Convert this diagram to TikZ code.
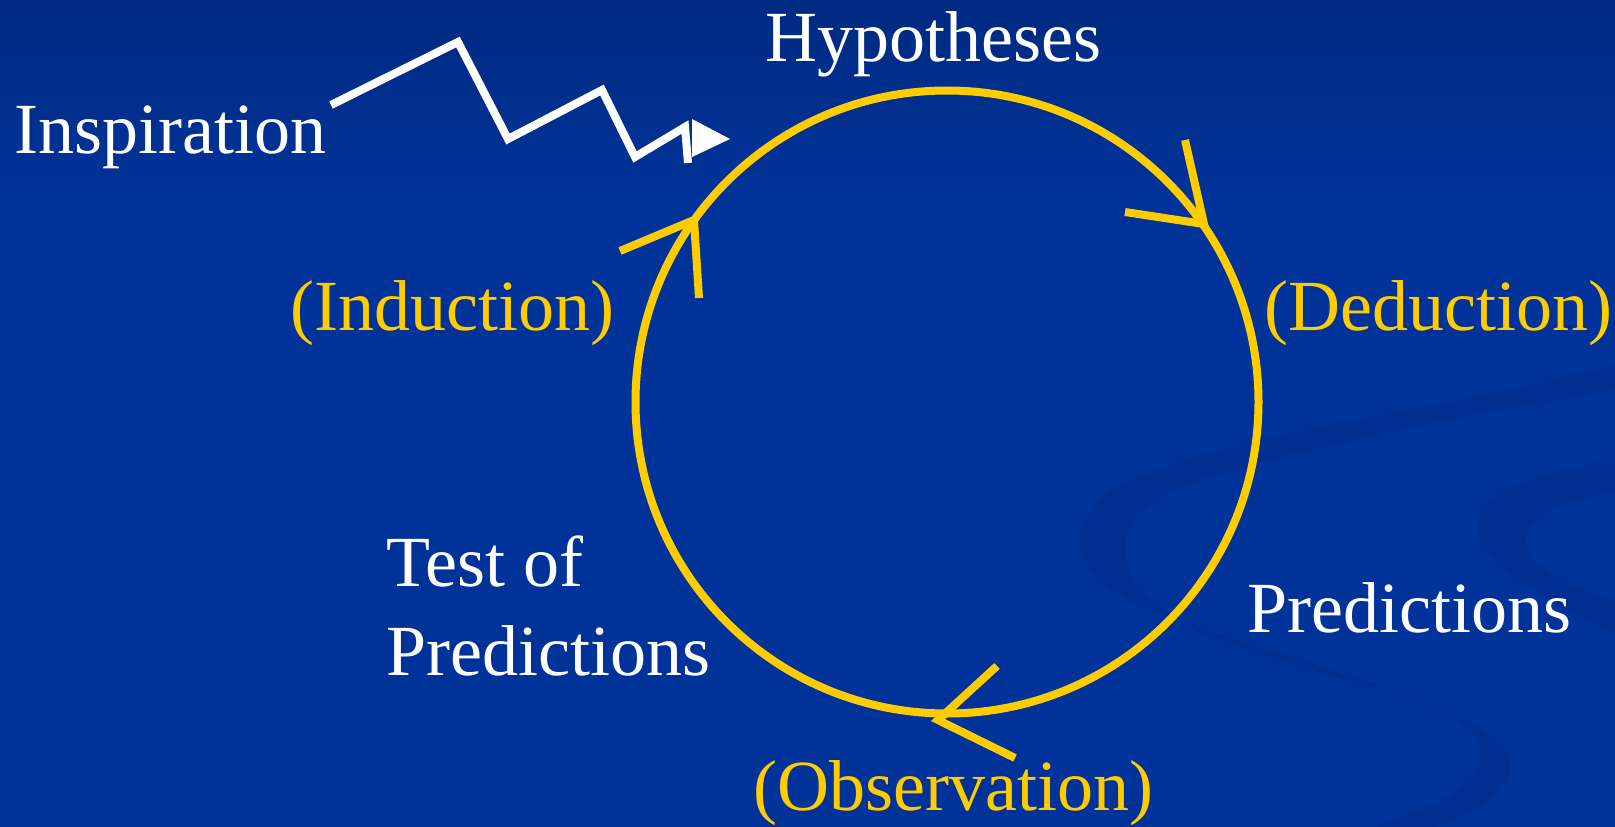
\documentclass[tikz,border=0pt]{standalone}
\usepackage{fontspec}
\setmainfont{Liberation Serif}
\usetikzlibrary{positioning}
\definecolor{deepblue}{RGB}{0,51,153}
\definecolor{topblue}{RGB}{0,42,130}
\definecolor{swirl}{RGB}{0,47,145}
\definecolor{gold}{RGB}{255,204,0}
\tikzset{
  word/.style={text=#1,font=\fontsize{72}{86}\selectfont,inner sep=0pt,anchor=base west},
  word/.default=white,
  ring/.style={draw=gold,line width=8pt},
  barb/.style={draw=gold,line width=8pt,miter limit=10},
  bolt/.style={draw=white,line width=8pt},
}

\begin{document}
\begin{tikzpicture}[x=1pt,y=-1pt]
  \useasboundingbox (0,0) rectangle (1615,827);
  % backdrop
  \fill[deepblue] (0,0) rectangle (1615,827);
  \shade[top color=topblue,bottom color=deepblue] (0,0) rectangle (1615,200);
  \begin{scope}
    \clip (0,0) rectangle (1615,827);
    \fill[swirl] plot[smooth cycle] coordinates {(1625,364) (1478,396) (1330,425) (1200,455) (1110,492) (1080,530) (1090,570) (1130,600) (1200,628) (1300,660) (1420,700) (1490,735) (1510,770) (1480,805) (1400,840) (1350,840) (1450,795) (1480,760) (1465,725) (1400,695) (1290,664) (1190,627) (1140,590) (1125,550) (1140,512) (1200,480) (1320,448) (1460,418) (1625,386)};
    \fill[swirl] plot[smooth cycle] coordinates {(1625,458) (1530,480) (1486,502) (1478,535) (1500,567) (1560,605) (1625,637) (1625,607) (1560,580) (1530,555) (1530,527) (1560,505) (1625,487)};
  \end{scope}

  % labels
  \node[word] (insp) at (14,153) {Inspiration};
  \node[word] (hyp) at (765,61) {Hypotheses};
  \node[word=gold] (ind) at (290,330) {(Induction)};
  \node[word=gold] (ded) at (1264,330) {(Deduction)};
  \node[word] (pred) at (1247,632) {Predictions};
  \node[word] (test) at (386,586) {Test of};
  \node[word] (testb) at (386,675) {Predictions};
  \node[word=gold] (obs) at (753,810) {(Observation)};

  % the cycle
  \coordinate (mid) at (947,402);
  \draw[ring] (mid) circle (311.5pt);
  \draw[barb] (620,251) -- (694,220) -- (699,298);
  \draw[barb] (1185,140) -- (1204,224) -- (1125,212);
  \draw[barb] (997,666) -- (938,720) -- (1015,758);

  % inspiration bolt
  \coordinate (spark) at (331,105);
  \draw[bolt] (spark) -- (458,42) -- (508,139) -- (602,90) -- (635,157) -- (685,127) -- (688,163);
  \fill[white] (692,119) -- (730,139) -- (692,157) -- cycle;
\end{tikzpicture}
\end{document}
